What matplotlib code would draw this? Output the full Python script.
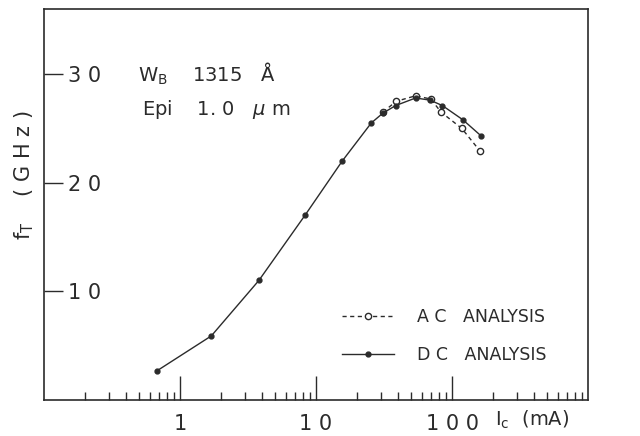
import matplotlib
matplotlib.use("Agg")
import matplotlib.pyplot as plt
from matplotlib.ticker import FixedLocator, LogLocator, NullFormatter

# ---- data ----
dc_ic = [0.68, 1.7, 3.8, 8.3, 15.6, 25.5, 31, 38.5, 54, 69, 85, 120, 164]
dc_ft = [2.7, 5.9, 11.0, 17.0, 22.0, 25.5, 26.4, 27.1, 27.8, 27.6, 27.1, 25.8, 24.3]

ac_ic = [31, 39, 54, 70, 83, 118, 161]
ac_ft = [26.5, 27.5, 28.0, 27.7, 26.5, 25.0, 22.9]

x_ticks = [1, 10, 100]
x_ticklabels = ["1", "1 0", "1 0 0"]
y_ticks = [10, 20, 30]
y_ticklabels = ["1 0", "2 0", "3 0"]

ink = "#2b2b2b"

fig = plt.figure(figsize=(6.4, 4.36), dpi=100)
ax = fig.add_axes([0.06875, 0.0826, 0.85, 0.897])

ax.plot(ac_ic, ac_ft, linestyle=(0, (3, 2.5)), color=ink, lw=1.0,
        marker="o", mfc="white", mec=ink, ms=4.5, mew=1.0,
        label="A C   ANALYSIS")
ax.plot(dc_ic, dc_ft, linestyle="-", color=ink, lw=1.0,
        marker="o", mfc=ink, mec=ink, ms=3.5,
        label="D C   ANALYSIS")

ax.set_xscale("log")
ax.set_xlim(0.1, 1000)
ax.set_ylim(0, 36)

# x axis: ticks pointing in, labels below
ax.xaxis.set_major_locator(FixedLocator(x_ticks))
ax.set_xticklabels(x_ticklabels)
ax.xaxis.set_minor_locator(LogLocator(base=10, subs=range(2, 10)))
ax.xaxis.set_minor_formatter(NullFormatter())
ax.tick_params(axis="x", which="major", direction="in", length=17, width=1.0,
               color=ink, labelsize=15, labelcolor=ink, pad=10)
ax.tick_params(axis="x", which="minor", direction="in", length=6, width=1.0,
               color=ink)

# y axis: ticks pointing in, labels inside the frame
ax.yaxis.set_major_locator(FixedLocator(y_ticks))
ax.set_yticklabels(y_ticklabels)
ax.tick_params(axis="y", which="major", direction="in", length=14, width=1.0,
               color=ink, labelsize=15, labelcolor=ink, pad=-17)
for lab in ax.get_yticklabels():
    lab.set_horizontalalignment("left")
ax.tick_params(axis="y", which="minor", left=False)

for s in ax.spines.values():
    s.set_color(ink)
    s.set_linewidth(1.2)

fig.text(0.038, 0.598, "f$_\\mathrm{T}$    ( G H z )", rotation=90, fontsize=15,
         color=ink, ha="center", va="center")
fig.text(0.773, 0.036, "I$_\\mathrm{c}$  (mA)", fontsize=14, color=ink,
         ha="left", va="center")

ax.text(0.173, 0.835, "W$_\\mathrm{B}$    1315   Å", transform=ax.transAxes,
        fontsize=14, color=ink, va="center")
ax.text(0.180, 0.742, "Epi    1. 0   $\\mu$ m", transform=ax.transAxes,
        fontsize=14, color=ink, va="center")

ax.legend(loc="upper left", bbox_to_anchor=(0.531, 0.258), frameon=False,
          borderpad=0, fontsize=12.5, handlelength=3.0, handletextpad=1.35,
          labelspacing=1.15, labelcolor=ink)

fig.savefig("out.png", dpi=100)
